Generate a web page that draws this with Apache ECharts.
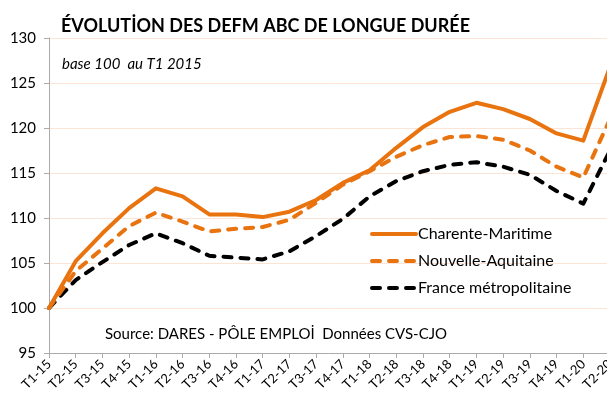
<!DOCTYPE html>
<html>
<head>
<meta charset="utf-8">
<script src="https://cdn.jsdelivr.net/npm/echarts@6/dist/echarts.min.js"></script>
<style>
  html, body { margin: 0; padding: 0; background: #fff; }
  #chart { width: 607px; height: 401px; }
</style>
</head>
<body>
<div id="chart"></div>
<script>
// trimestres
const quarters = ['T1-15', 'T2-15', 'T3-15', 'T4-15', 'T1-16', 'T2-16', 'T3-16', 'T4-16',
  'T1-17', 'T2-17', 'T3-17', 'T4-17', 'T1-18', 'T2-18', 'T3-18', 'T4-18',
  'T1-19', 'T2-19', 'T3-19', 'T4-19', 'T1-20', 'T2-20']

const charenteMaritime = [100, 105.2, 108.3, 111.1, 113.3, 112.4, 110.4, 110.4,
  110.1, 110.7, 112.0, 113.9, 115.3, 117.8, 120.1, 121.8,
  122.8, 122.1, 121.0, 119.4, 118.6, 126.8]

const nouvelleAquitaine = [100, 104.1, 106.6, 109.1, 110.6, 109.6, 108.5, 108.8,
  109.0, 109.8, 111.7, 113.7, 115.2, 116.8, 118.1, 119.0,
  119.1, 118.7, 117.5, 115.7, 114.5, 121.0]

const franceMetro = [100, 103.1, 105.1, 107.0, 108.3, 107.2, 105.8, 105.6,
  105.4, 106.3, 108.0, 109.9, 112.4, 114.1, 115.2, 115.9,
  116.2, 115.7, 114.8, 113.0, 111.6, 117.5]

const yMin = 95
const yMax = 130
const yStep = 5

const font = 'Lato, "Open Sans", sans-serif'
const orange = '#E8730F'

let chart = echarts.init(document.getElementById('chart'))

let option = {
  animation: false,
  textStyle: { fontFamily: font },
  title: [
    {
      text: 'ÉVOLUTİON DES DEFM ABC DE LONGUE DURÉE',
      left: 56,
      top: 12,
      textStyle: { fontSize: 18, fontWeight: 'bold', color: '#000', fontFamily: font }
    },
    {
      text: 'base 100  au T1 2015',
      left: 57,
      top: 52,
      textStyle: { fontSize: 15, fontStyle: 'italic', fontWeight: 'normal', color: '#000', fontFamily: font }
    },
    {
      text: 'Source: DARES - PÔLE EMPLOİ  Données CVS-CJO',
      left: 100,
      top: 322,
      textStyle: { fontSize: 15, fontWeight: 'normal', color: '#000', fontFamily: font }
    }
  ],
  // la dernière valeur tombe juste au bord droit (coupée)
  grid: {
    left: 49,
    width: 561,
    top: 38,
    height: 315,
    outerBoundsMode: 'none'
  },
  legend: {
    orient: 'vertical',
    left: 370,
    top: 226,
    padding: 0,
    itemWidth: 44,
    itemHeight: 14,
    itemGap: 11,
    itemStyle: { opacity: 0 },
    lineStyle: { width: 4 },
    textStyle: { fontSize: 16, color: '#000', fontFamily: font, padding: [0, 0, 0, -3] },
    data: ['Charente-Maritime', 'Nouvelle-Aquitaine', 'France métropolitaine']
  },
  xAxis: {
    type: 'category',
    boundaryGap: false,
    data: quarters,
    axisLine: { lineStyle: { color: '#ABABAB', width: 1 } },
    axisTick: { show: true, length: 5, lineStyle: { color: '#ABABAB' } },
    axisLabel: { rotate: 45, fontSize: 13, color: '#000', margin: 9, interval: 0 },
    splitLine: { show: false }
  },
  yAxis: {
    type: 'value',
    min: yMin,
    max: yMax,
    interval: yStep,
    axisLine: { show: true, lineStyle: { color: '#ABABAB', width: 1 } },
    axisTick: { show: true, length: 5, lineStyle: { color: '#ABABAB' } },
    axisLabel: { fontSize: 15, color: '#000', margin: 13 },
    splitLine: { show: true, lineStyle: { color: '#FCE4D6', width: 1 } }
  },
  series: [
    {
      name: 'Charente-Maritime',
      type: 'line',
      symbol: 'none',
      z: 4,
      lineStyle: { color: orange, width: 4, cap: 'round', join: 'round' },
      itemStyle: { color: orange },
      data: charenteMaritime
    },
    {
      name: 'Nouvelle-Aquitaine',
      type: 'line',
      symbol: 'none',
      z: 3,
      lineStyle: { color: orange, width: 4, type: [8, 9], cap: 'round', join: 'round' },
      itemStyle: { color: orange },
      data: nouvelleAquitaine
    },
    {
      name: 'France métropolitaine',
      type: 'line',
      symbol: 'none',
      z: 2,
      lineStyle: { color: '#000', width: 4, type: [8, 9], cap: 'round', join: 'round' },
      itemStyle: { color: '#000' },
      data: franceMetro
    }
  ]
}

chart.setOption(option)
</script>
</body>
</html>
